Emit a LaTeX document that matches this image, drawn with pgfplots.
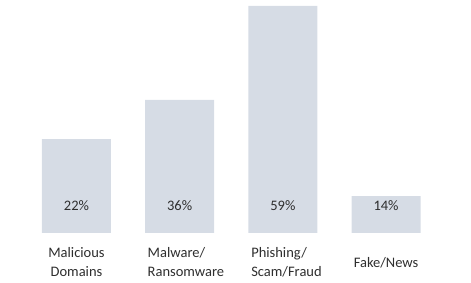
\documentclass[border=0pt]{standalone}
\usepackage{pgfplots}
\pgfplotsset{compat=1.18}
\usepackage{fontspec}
\setmainfont{Carlito}
\definecolor{barcol}{HTML}{D6DCE5}
\definecolor{txt}{HTML}{2E2E2E}
\newcommand\labA{\begin{tabular}{@{}c@{}}Malicious\\Domains\end{tabular}}
\newcommand\labB{\begin{tabular}{@{}l@{}}Malware/\\Ransomware\end{tabular}}
\newcommand\labC{\begin{tabular}{@{}l@{}}Phishing/\\Scam/Fraud\end{tabular}}
\newcommand\labD{Fake/News}
\begin{document}
\begin{tikzpicture}
\begin{axis}[
  scale only axis,
  width=471pt, height=283pt,
  xmin=-0.741, xmax=3.823,
  ymin=-13.0, ymax=60.56,
  axis lines=box,
  axis line style={draw=none},
  xtick=\empty, ytick=\empty,
  clip=false,
  font=\fontsize{14.5}{19}\selectfont,
]
% bar heights as drawn
\addplot[ybar, bar width=69pt, fill=barcol, draw=none] coordinates {
  (0,24.4) (1,34.6) (2,59) (3,9.6)
};
% value labels
\addplot[draw=none, mark=none, point meta=explicit symbolic,
  nodes near coords,
  nodes near coords style={anchor=center, text=txt, font=\fontsize{14.5}{19}\selectfont}]
  coordinates {
  (0,7.0) [22\%]
  (1,7.0) [36\%]
  (2,7.0) [59\%]
  (3,7.0) [14\%]
};
% category labels
\addplot[draw=none, mark=none, point meta=explicit symbolic,
  nodes near coords,
  nodes near coords style={anchor=center, text=txt, inner sep=0pt, font=\fontsize{14.5}{19}\selectfont}]
  coordinates {
  (0,-7.9) [\labA]
  (1.061,-7.9) [\labB]
  (2.035,-7.9) [\labC]
  (3,-7.8) [\labD]
};
\end{axis}
\end{tikzpicture}
\end{document}
